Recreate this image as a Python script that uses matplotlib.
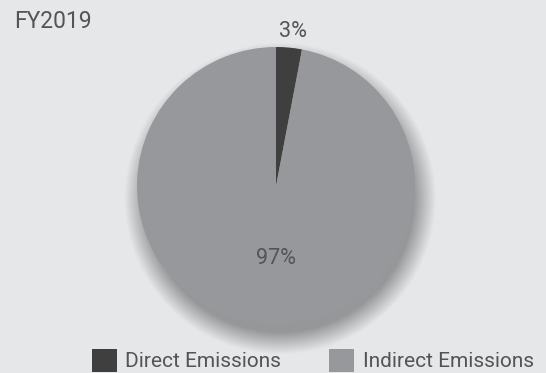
import matplotlib.pyplot as plt
from matplotlib.patches import Circle

plt.rcParams['font.family'] = ['Roboto', 'DejaVu Sans']

# data
labels = ["Direct Emissions", "Indirect Emissions"]
values = [3, 97]
colors = ["#3f3f3f", "#97989b"]
title = "FY2019"

bg = "#e6e7e8"
txt = "#545456"

fig = plt.figure(figsize=(5.46, 3.73), dpi=100, facecolor=bg)
ax = fig.add_axes([0, 0, 1, 1])
ax.set_facecolor(bg)

# soft drop shadow under the pie
n = 40
for i in range(n):
    r = 1.12 - i * 0.004
    ax.add_patch(Circle((0.03, -0.09), r, color="#000000", alpha=0.009, lw=0, zorder=0))

wedges, texts, autotexts = ax.pie(values, colors=colors, startangle=90, counterclock=False,
                                  radius=1.0, autopct="%d%%", pctdistance=0.52,
                                  wedgeprops=dict(linewidth=0, zorder=2),
                                  textprops=dict(color=txt, fontsize=15.5))
for w in wedges:
    w.set_zorder(2)
# small slice label sits outside the pie
autotexts[0].set_position((0.12, 1.11))
autotexts[1].set_position((0.0, -0.52))

# place center at (276, 186) px, radius 139 px
s = 139.0
ax.set_xlim(-276 / s, 270 / s)
ax.set_ylim(-187 / s, 186 / s)
ax.set_aspect("auto")
ax.axis("off")

fig.text(14 / 546, 1 - 21 / 373, title, color=txt, fontsize=16.5,
         va="center", ha="left")

leg = fig.legend(wedges, labels, loc="lower right", bbox_to_anchor=(1.0, -0.03), ncol=2,
                 frameon=False, fontsize=15, handlelength=1.2,
                 handleheight=1.3, handletextpad=0.4, columnspacing=2.3, borderaxespad=0.2)
for t in leg.get_texts():
    t.set_color(txt)

fig.savefig("out.png", dpi=100, facecolor=bg)
